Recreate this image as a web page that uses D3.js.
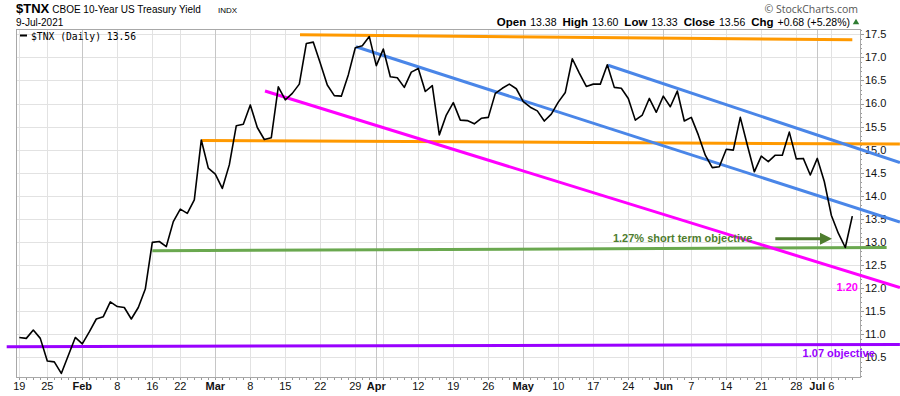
<!DOCTYPE html>
<html>
<head>
<meta charset="utf-8">
<script src="https://cdn.jsdelivr.net/npm/d3@7"></script>
<style>
    body { margin: 0; background: #fff; }
    svg { display: block; font-family: Arial, "Liberation Sans", sans-serif; }
    .grid-line { stroke: #e2e2e2; stroke-width: 1; shape-rendering: crispEdges; }
    .grid-line.month { stroke: #c6c6c6; }
    .plot-frame { fill: none; stroke: #a8a8a8; stroke-width: 1; shape-rendering: crispEdges; }
    .tick-mark { stroke: #9a9a9a; stroke-width: 1; shape-rendering: crispEdges; }
    .axis-label { font-size: 11px; fill: #111; }
    .axis-label.month { font-weight: bold; }
    .price-line { fill: none; stroke: #000; stroke-width: 1.6; stroke-linejoin: round; }
    .trend-line { fill: none; stroke-width: 3; }
    .note-label { font-size: 11px; font-weight: bold; }
</style>
</head>
<body>
<div id="chart-area"></div>
<script>

// Trading days shown on the chart
var tradingDays = [
    "2021-01-19","2021-01-20","2021-01-21","2021-01-22","2021-01-25","2021-01-26","2021-01-27","2021-01-28","2021-01-29",
    "2021-02-01","2021-02-02","2021-02-03","2021-02-04","2021-02-05","2021-02-08","2021-02-09","2021-02-10","2021-02-11","2021-02-12",
    "2021-02-16","2021-02-17","2021-02-18","2021-02-19","2021-02-22","2021-02-23","2021-02-24","2021-02-25","2021-02-26",
    "2021-03-01","2021-03-02","2021-03-03","2021-03-04","2021-03-05","2021-03-08","2021-03-09","2021-03-10","2021-03-11","2021-03-12",
    "2021-03-15","2021-03-16","2021-03-17","2021-03-18","2021-03-19","2021-03-22","2021-03-23","2021-03-24","2021-03-25","2021-03-26",
    "2021-03-29","2021-03-30","2021-03-31","2021-04-01",
    "2021-04-05","2021-04-06","2021-04-07","2021-04-08","2021-04-09","2021-04-12","2021-04-13","2021-04-14","2021-04-15","2021-04-16",
    "2021-04-19","2021-04-20","2021-04-21","2021-04-22","2021-04-23","2021-04-26","2021-04-27","2021-04-28","2021-04-29","2021-04-30",
    "2021-05-03","2021-05-04","2021-05-05","2021-05-06","2021-05-07","2021-05-10","2021-05-11","2021-05-12","2021-05-13","2021-05-14",
    "2021-05-17","2021-05-18","2021-05-19","2021-05-20","2021-05-21","2021-05-24","2021-05-25","2021-05-26","2021-05-27","2021-05-28",
    "2021-06-01","2021-06-02","2021-06-03","2021-06-04","2021-06-07","2021-06-08","2021-06-09","2021-06-10","2021-06-11",
    "2021-06-14","2021-06-15","2021-06-16","2021-06-17","2021-06-18","2021-06-21","2021-06-22","2021-06-23","2021-06-24","2021-06-25",
    "2021-06-28","2021-06-29","2021-06-30","2021-07-01","2021-07-02","2021-07-06","2021-07-07","2021-07-08","2021-07-09"
];

// $TNX daily close (yield x 10)
var tnxClose = [
    10.93, 10.91, 11.09, 10.91, 10.42, 10.40, 10.15, 10.54, 10.93, 10.79,
    11.05, 11.33, 11.38, 11.70, 11.60, 11.58, 11.33, 11.58, 11.98, 12.99,
    13.01, 12.90, 13.44, 13.71, 13.62, 13.91, 15.21, 14.60, 14.47, 14.16,
    14.67, 15.52, 15.55, 15.97, 15.48, 15.22, 15.26, 16.36, 16.08, 16.22,
    16.42, 17.30, 17.33, 16.87, 16.40, 16.17, 16.16, 16.62, 17.21, 17.25,
    17.45, 16.82, 17.18, 16.58, 16.56, 16.35, 16.68, 16.76, 16.26, 16.39,
    15.32, 15.75, 16.02, 15.64, 15.63, 15.56, 15.68, 15.70, 16.22, 16.33,
    16.42, 16.32, 16.04, 15.92, 15.84, 15.62, 15.77, 16.03, 16.24, 16.97,
    16.66, 16.37, 16.42, 16.42, 16.84, 16.35, 16.33, 16.11, 15.64, 15.75,
    16.11, 15.81, 16.16, 15.93, 16.27, 15.62, 15.70, 15.32, 14.88, 14.61,
    14.63, 15.01, 14.99, 15.70, 15.10, 14.52, 14.86, 14.74, 14.88, 14.88,
    15.38, 14.80, 14.81, 14.45, 14.81, 14.31, 13.58, 13.19, 12.88, 13.56
];

// Weekly / monthly x ticks
var tickDates = ["2021-01-19","2021-01-25","2021-02-01","2021-02-08","2021-02-16","2021-02-22","2021-03-01","2021-03-08",
    "2021-03-15","2021-03-22","2021-03-29","2021-04-01","2021-04-05","2021-04-12","2021-04-19","2021-04-26","2021-05-03",
    "2021-05-10","2021-05-17","2021-05-24","2021-06-01","2021-06-07","2021-06-14","2021-06-21","2021-06-28","2021-07-01","2021-07-06"];
var tickLabels = ["19","25","Feb","8","16","22","Mar","8","15","22","29","Apr","","12","19","26","May",
    "10","17","24","Jun","7","14","21","28","Jul","6"];

var yTicks = [10.5, 11.0, 11.5, 12.0, 12.5, 13.0, 13.5, 14.0, 14.5, 15.0, 15.5, 16.0, 16.5, 17.0, 17.5];

// Hand drawn trend lines: [trading day index, value] at each end
var orangeTop = [[40.1, 17.49], [119.0, 17.38]];
var orangeMid = [[26.1, 15.20], [125.8, 15.12]];
var magentaLine = [[35.1, 16.27], [125.8, 12.01]];
var blueLower = [[48.1, 17.23], [125.8, 13.43]];
var blueUpper = [[84.1, 16.83], [125.8, 14.72]];
var greenLine = [[19.0, 12.81], [123.9, 12.88]];
var purpleLine = [[-1.8, 10.73], [125.8, 10.78]];

// Annotations
var noteTexts = ["1.27% short term objective", "1.20", "1.07 objective"];
var noteDays = [84.8, 119.8, 111.9];
var noteValues = [13.08, 12.02, 10.59];
var arrowDays = [108.0, 116.1];
var arrowValue = 13.07;

// Quote header
var quoteLabels = ["Open", "High", "Low", "Close", "Chg"];
var quoteValues = ["13.38", "13.60", "13.33", "13.56", "+0.68 (+5.28%)"];


YieldChart = function(_parentElement, _dates, _values) {
    this.parentElement = _parentElement;
    this.dates = _dates;
    this.values = _values;

    this.initVis();
};

YieldChart.prototype.initVis = function() {
    var vis = this;

    vis.plot = { left: 16, right: 860, top: 29, bottom: 377 };

    vis.svg = d3.select("#" + vis.parentElement).append("svg")
        .attr("width", 900)
        .attr("height", 396);

    vis.x = d3.scaleLinear()
        .domain([0, vis.dates.length - 1])
        .range([19.3, 852.3]);

    vis.y = d3.scaleLinear()
        .domain([10.5, 17.5])
        .range([357.3, 34.3]);

    // Horizontal grid
    vis.svg.append("g").selectAll("line")
        .data(yTicks)
        .enter().append("line")
        .attr("class", "grid-line")
        .attr("x1", vis.plot.left).attr("x2", vis.plot.right)
        .attr("y1", function(d) { return Math.round(vis.y(d)) + 0.5; })
        .attr("y2", function(d) { return Math.round(vis.y(d)) + 0.5; });

    vis.ticks = tickDates.map(function(d, i) {
        return { index: vis.dates.indexOf(d), label: tickLabels[i], month: /[A-Z]/.test(tickLabels[i]) };
    });

    // Vertical grid
    vis.svg.append("g").selectAll("line")
        .data(vis.ticks)
        .enter().append("line")
        .attr("class", function(d) { return d.month ? "grid-line month" : "grid-line"; })
        .attr("x1", function(d) { return Math.round(vis.x(d.index)) + 0.5; })
        .attr("x2", function(d) { return Math.round(vis.x(d.index)) + 0.5; })
        .attr("y1", vis.plot.top).attr("y2", vis.plot.bottom);

    vis.svg.append("rect")
        .attr("class", "plot-frame")
        .attr("x", vis.plot.left + 0.5).attr("y", vis.plot.top + 0.5)
        .attr("width", vis.plot.right - vis.plot.left)
        .attr("height", vis.plot.bottom - vis.plot.top);

    // Right axis: minor ticks every 0.1, labels every 0.5
    vis.svg.append("g").selectAll("line")
        .data(d3.range(101, 177).map(function(d) { return d / 10; }))
        .enter().append("line")
        .attr("class", "tick-mark")
        .attr("x1", vis.plot.right + 1)
        .attr("x2", function(d) { return vis.plot.right + (Math.round(d * 10) % 5 === 0 ? 4 : 2); })
        .attr("y1", function(d) { return Math.round(vis.y(d)) + 0.5; })
        .attr("y2", function(d) { return Math.round(vis.y(d)) + 0.5; });

    vis.svg.append("g").selectAll("text")
        .data(yTicks)
        .enter().append("text")
        .attr("class", "axis-label")
        .attr("x", vis.plot.right + 5)
        .attr("y", function(d) { return vis.y(d); })
        .attr("dy", "0.36em")
        .text(d3.format(".1f"));

    // Bottom axis: a dot for every trading day, labels on weekly ticks
    vis.svg.append("g").selectAll("line")
        .data(vis.dates)
        .enter().append("line")
        .attr("class", "tick-mark")
        .attr("x1", function(d, i) { return Math.round(vis.x(i)) + 0.5; })
        .attr("x2", function(d, i) { return Math.round(vis.x(i)) + 0.5; })
        .attr("y1", vis.plot.bottom + 1).attr("y2", vis.plot.bottom + 3);

    vis.svg.append("g").selectAll("text")
        .data(vis.ticks)
        .enter().append("text")
        .attr("class", function(d) { return d.month ? "axis-label month" : "axis-label"; })
        .attr("x", function(d) { return vis.x(d.index); })
        .attr("y", 390)
        .attr("text-anchor", "middle")
        .text(function(d) { return d.label; });

    vis.drawHeader();

    vis.wrangleData();
};

YieldChart.prototype.drawHeader = function() {
    var vis = this;

    var title = vis.svg.append("text").attr("x", 16).attr("y", 13);
    title.append("tspan").attr("font-size", 13).attr("font-weight", "bold").text("$TNX");
    title.append("tspan").attr("font-size", 10).attr("dx", 3).text("CBOE 10-Year US Treasury Yield");
    vis.svg.append("text").attr("x", 218).attr("y", 13).attr("font-size", 8).text("INDX");

    vis.svg.append("text").attr("x", 16).attr("y", 26).attr("font-size", 10).text("9-Jul-2021");

    vis.svg.append("text")
        .attr("x", 858).attr("y", 13)
        .attr("text-anchor", "end")
        .attr("font-size", 10.5)
        .attr("fill", "#555")
        .style("font-family", "'Open Sans', sans-serif")
        .text("\u00a9 StockCharts.com");

    var quote = vis.svg.append("text")
        .attr("x", 850).attr("y", 26)
        .attr("text-anchor", "end");
    quoteLabels.forEach(function(label, i) {
        quote.append("tspan").attr("font-size", 11.5).attr("font-weight", "bold")
            .attr("dx", i === 0 ? 0 : 6).text(label);
        quote.append("tspan").attr("font-size", 10.5).attr("dx", 4).text(quoteValues[i]);
    });

    vis.svg.append("path")
        .attr("d", d3.symbol().type(d3.symbolTriangle).size(18))
        .attr("transform", "translate(856,22.5)")
        .attr("fill", "#2f7d32");

    // Legend
    vis.svg.append("line")
        .attr("x1", 20).attr("x2", 27).attr("y1", 35.5).attr("y2", 35.5)
        .attr("stroke", "#000").attr("stroke-width", 2);
    vis.svg.append("text")
        .attr("x", 31).attr("y", 39.5)
        .attr("font-size", 9.7)
        .style("font-family", "'DejaVu Sans Mono', monospace")
        .text("$TNX (Daily) " + d3.format(".2f")(vis.values[vis.values.length - 1]));
};

YieldChart.prototype.wrangleData = function() {
    var vis = this;

    vis.displayData = vis.values.map(function(v, i) {
        return { date: vis.dates[i], index: i, value: v };
    });

    vis.trends = [
        { points: orangeMid, color: "#ff9900" },
        { points: orangeTop, color: "#ff9900" },
        { points: greenLine, color: "#6aa84f" },
        { points: purpleLine, color: "#9900ff" },
        { points: magentaLine, color: "#ff00ff" },
        { points: blueLower, color: "#4a86e8" },
        { points: blueUpper, color: "#4a86e8" }
    ];

    vis.updateVis();
};

YieldChart.prototype.updateVis = function() {
    var vis = this;

    var trendLine = d3.line()
        .x(function(d) { return vis.x(d[0]); })
        .y(function(d) { return vis.y(d[1]); });

    vis.svg.append("g").selectAll("path")
        .data(vis.trends)
        .enter().append("path")
        .attr("class", "trend-line")
        .attr("stroke", function(d) { return d.color; })
        .attr("d", function(d) { return trendLine(d.points); });

    var priceLine = d3.line()
        .x(function(d) { return vis.x(d.index); })
        .y(function(d) { return vis.y(d.value); });

    vis.svg.append("path")
        .datum(vis.displayData)
        .attr("class", "price-line")
        .attr("d", priceLine);

    // Notes on the objectives
    var noteColors = ["#4e7d2e", "#ff00ff", "#9900ff"];
    var noteAnchors = ["start", "end", "start"];
    vis.svg.append("g").selectAll("text")
        .data(noteTexts)
        .enter().append("text")
        .attr("class", "note-label")
        .attr("x", function(d, i) { return vis.x(noteDays[i]); })
        .attr("y", function(d, i) { return vis.y(noteValues[i]); })
        .attr("dy", "0.36em")
        .attr("text-anchor", function(d, i) { return noteAnchors[i]; })
        .attr("fill", function(d, i) { return noteColors[i]; })
        .text(function(d) { return d; });

    var ax0 = vis.x(arrowDays[0]), ax1 = vis.x(arrowDays[1]), ay = vis.y(arrowValue);
    vis.svg.append("line")
        .attr("x1", ax0).attr("x2", ax1 - 10)
        .attr("y1", ay).attr("y2", ay)
        .attr("stroke", "#4e7d2e").attr("stroke-width", 3);
    vis.svg.append("path")
        .attr("d", "M" + (ax1 - 12) + "," + (ay - 6) + "L" + ax1 + "," + ay + "L" + (ax1 - 12) + "," + (ay + 6) + "Z")
        .attr("fill", "#4e7d2e");
};

var chart = new YieldChart("chart-area", tradingDays, tnxClose);

</script>
</body>
</html>
